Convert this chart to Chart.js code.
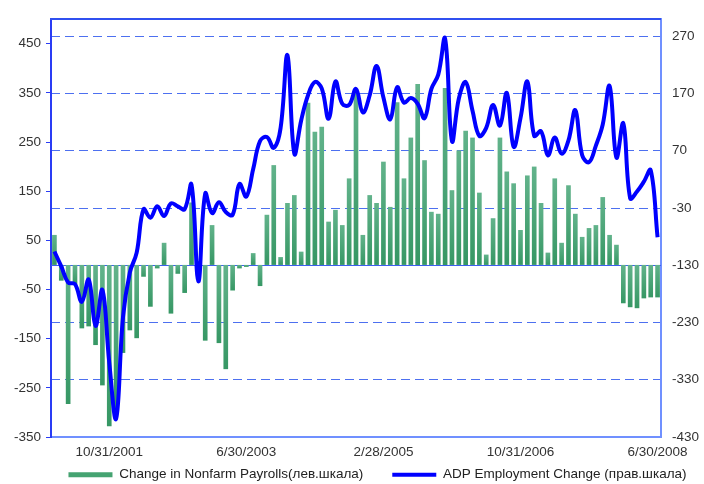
<!DOCTYPE html>
<html><head><meta charset="utf-8">
<script src="https://cdn.jsdelivr.net/npm/chart.js@4.4.1/dist/chart.umd.min.js"></script>
<style>html,body{margin:0;padding:0;background:#fff;}#wrap{width:704px;height:484px;}</style>
</head><body><div id="wrap"><canvas id="c" width="704" height="484"></canvas></div>
<script>
// ---- data ----
const startYear = 2001, startMonth = 2, monthCount = 89; // Feb 2001 .. Jun 2008, month-end dates
const xTickLabels = ['10/31/2001', '6/30/2003', '2/28/2005', '10/31/2006', '6/30/2008'];
const leftTicks = [-350, -250, -150, -50, 50, 150, 250, 350, 450];
const rightTicks = [-430, -330, -230, -130, -30, 70, 170, 270];
const payrolls = [
  61, -32, -283, -40, -129, -125, -163, -245, -328, -300,
  -179, -133, -149, -24, -85, -7, 45, -99, -18, -57,
  127, 8, -154, 81, -159, -212, -52, -7, -4, 24,
  -43, 102, 203, 16, 126, 142, 27, 330, 271, 281,
  88, 112, 81, 176, 358, 61, 142, 126, 210, 118,
  331, 176, 259, 368, 213, 108, 104, 360, 152, 233,
  273, 259, 147, 21, 95, 259, 190, 166, 71, 182,
  200, 126, 25, 176, 45, 162, 104, 57, 75, 81,
  138, 61, 41, -78, -86, -88, -68, -66, -66
];
const adp = [
  -106, -132, -160, -163, -194, -155, -236, -173, -300, -398,
  -221, -143, -108, -32, -47, -27, -44, -22, -27, -32,
  11, -158, -5, -39, -20, -37, -42, 12, -10, 38,
  87, 94, 75, 110, 237, 65, 123, 167, 190, 179,
  126, 191, 152, 150, 178, 137, 167, 218, 163, 125,
  181, 154, 162, 152, 127, 178, 203, 266, 87, 161,
  190, 140, 96, 110, 150, 114, 171, 77, 127, 191,
  96, 104, 62, 93, 65, 88, 141, 62, 50, 79,
  116, 183, 58, 118, -13, -1, 16, 36, -81
];
const categories = [];
for (let k = 0; k < monthCount; k++) {
  const d = new Date(startYear, startMonth + k, 0);
  categories.push((d.getMonth() + 1) + '/' + d.getDate() + '/' + d.getFullYear());
}

// ---- style ----
const FONT = '"Liberation Sans", Arial, sans-serif';
Chart.defaults.font.family = FONT;
Chart.defaults.font.size = 13.5;
Chart.defaults.color = '#333333';

function barFill(ctx) {
  const chart = ctx.chart;
  const ys = chart.scales && chart.scales.y;
  if (!ys || ctx.type !== 'data' || !chart.chartArea) return '#48a575';
  const p0 = ys.getPixelForValue(0), p1 = ys.getPixelForValue(ctx.raw);
  const top = Math.min(p0, p1), bot = Math.max(p0, p1);
  if (!isFinite(top) || !isFinite(bot) || bot - top < 1) return '#48a575';
  const g = chart.ctx.createLinearGradient(0, top, 0, bot);
  g.addColorStop(0, '#62b38b');
  g.addColorStop(1, '#369764');
  return g;
}

const framePlugin = {
  id: 'frame',
  afterLayout(chart) {
    // legend box spans from just under the plot to the canvas bottom; label padding sets item gap
    const lg = chart.legend;
    lg.top = chart.scales.x.top + 2;
    lg.bottom = chart.height;
    lg.height = lg.bottom - lg.top;
  },
  beforeDatasetsDraw(chart) {
    const {ctx, chartArea: a, scales: {y}} = chart;
    const py = Math.round(y.getPixelForValue(0)) + 0.5;
    ctx.save();
    ctx.strokeStyle = '#3d5ff0';
    ctx.lineWidth = 1;
    ctx.beginPath(); ctx.moveTo(a.left, py); ctx.lineTo(a.right, py); ctx.stroke();
    ctx.restore();
  },
  afterDraw(chart) {
    const {ctx, chartArea: a} = chart;
    ctx.save();
    ctx.strokeStyle = '#3050f0';
    ctx.lineWidth = 2;
    ctx.beginPath(); ctx.moveTo(a.left - 1, a.top); ctx.lineTo(a.right, a.top); ctx.stroke();
    ctx.restore();
  }
};

new Chart(document.getElementById('c'), {
  type: 'bar',
  data: {
    labels: categories,
    datasets: [
      { type: 'bar', label: 'Change in Nonfarm Payrolls(лев.шкала)', data: payrolls, yAxisID: 'y',
        backgroundColor: barFill, borderWidth: 0, barPercentage: 0.68, categoryPercentage: 1, order: 2 },
      { type: 'line', label: 'ADP Employment Change (прав.шкала)', data: adp, yAxisID: 'y2',
        borderColor: '#0000ff', backgroundColor: '#0000ff', borderWidth: 4, pointRadius: 0,
        tension: 0.4, fill: false, order: 1 }
    ]
  },
  options: {
    responsive: false, animation: false, devicePixelRatio: 1,
    layout: { padding: { left: 0, right: -51, top: 9, bottom: 0 } },
    scales: {
      x: {
        type: 'category', offset: true,
        grid: { display: false, drawTicks: false },
        border: { display: true, color: '#7090ff', width: 2 },
        ticks: { autoSkip: false, maxRotation: 0, minRotation: 0, padding: 7, color: '#333',
          callback(v, i) { const l = categories[i]; return xTickLabels.includes(l) ? l : ''; } },
        afterFit(s) { s.height = 24; }
      },
      y: {
        position: 'left', min: -350, max: 500,
        afterBuildTicks(s) { s.ticks = leftTicks.map(v => ({value: v})); },
        grid: { display: true, drawOnChartArea: false, drawTicks: true, tickLength: 5, color: '#2a3cf5' },
        border: { display: true, color: '#2a3cf5', width: 2 },
        ticks: { padding: 5, color: '#333' },
        afterFit(s) { s.width = 51; }
      },
      y2: {
        position: 'right', min: -430, max: 300,
        afterBuildTicks(s) { s.ticks = rightTicks.map(v => ({value: v})); },
        grid: { display: true, drawOnChartArea: true, drawTicks: false, lineWidth: 1,
          color: (c) => (c.tick && c.tick.value === -430) ? 'rgba(0,0,0,0)' : '#4d70f0' },
        border: { display: true, color: '#7090ff', width: 2, dash: [9, 5] },
        ticks: { padding: 11, color: '#333' },
        afterFit(s) { s.width = 94; }
      }
    },
    plugins: {
      tooltip: { enabled: false },
      legend: {
        position: 'bottom', maxHeight: 23,
        labels: {
          usePointStyle: true, pointStyleWidth: 44, boxHeight: 5, padding: 29, color: '#222',
          font: { size: 13.5 },
          sort: (a, b) => a.datasetIndex - b.datasetIndex,
          generateLabels(chart) {
            const items = Chart.defaults.plugins.legend.labels.generateLabels(chart);
            items.forEach(it => {
              if (it.datasetIndex === 0) {
                it.pointStyle = 'rect'; it.fillStyle = '#45a371'; it.strokeStyle = '#45a371'; it.lineWidth = 0;
              } else {
                it.pointStyle = 'line'; it.strokeStyle = '#0000ff'; it.fillStyle = '#0000ff'; it.lineWidth = 4;
              }
            });
            return items;
          }
        }
      }
    }
  },
  plugins: [framePlugin]
});
</script>
</body></html>
